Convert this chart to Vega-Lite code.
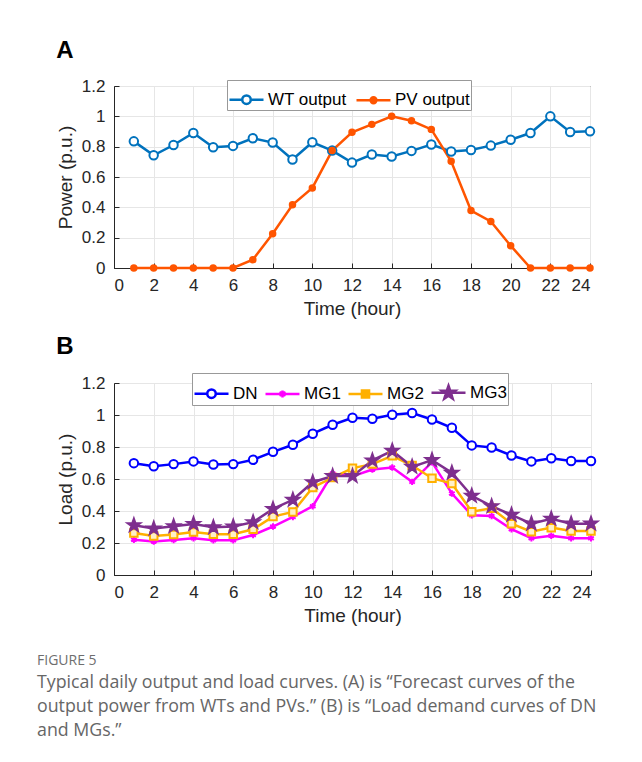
{
"$schema": "https://vega.github.io/schema/vega-lite/v6.json",
"padding": {"left": 37, "top": 38, "right": 5, "bottom": 5},
"background": "white",
"bounds": "flush",
"spacing": 115,
"resolve": {"scale": {"color": "independent"}, "legend": {"color": "independent"}},
"title": {"text": "FIGURE 5", "subtitle": ["Typical daily output and load curves. (A) is “Forecast curves of the", "output power from WTs and PVs.” (B) is “Load demand curves of DN", "and MGs.”"], "orient": "bottom", "anchor": "start", "frame": "group", "dx": -77, "offset": 28, "font": "Open Sans", "fontSize": 14, "fontWeight": "normal", "color": "#6e6e6e", "subtitleFont": "Open Sans", "subtitleFontSize": 17.8, "subtitleColor": "#666666", "subtitlePadding": 6, "subtitleLineHeight": 24},
"config": {
  "font": "Liberation Sans",
  "view": {"stroke": "#262626", "strokeWidth": 1},
  "axis": {"labelFont": "Liberation Sans", "labelFontSize": 17, "labelColor": "#262626", "titleFont": "Liberation Sans", "titleFontSize": 19, "titleFontWeight": "normal", "titleColor": "#262626", "domainColor": "#262626", "tickColor": "#262626", "gridColor": "#e6e6e6", "grid": true, "tickSize": -5},
  "axisX": {"labelPadding": 14, "titlePadding": 6},
  "axisY": {"labelPadding": 14, "titlePadding": 6},
  "legend": {"labelFont": "Liberation Sans"}
},
"datasets": {
 "A": [
  {"hour":1,"series":"WT output","value":0.835},{"hour":2,"series":"WT output","value":0.743},{"hour":3,"series":"WT output","value":0.811},{"hour":4,"series":"WT output","value":0.890},{"hour":5,"series":"WT output","value":0.796},{"hour":6,"series":"WT output","value":0.805},{"hour":7,"series":"WT output","value":0.855},{"hour":8,"series":"WT output","value":0.827},{"hour":9,"series":"WT output","value":0.715},{"hour":10,"series":"WT output","value":0.829},{"hour":11,"series":"WT output","value":0.774},{"hour":12,"series":"WT output","value":0.695},{"hour":13,"series":"WT output","value":0.748},{"hour":14,"series":"WT output","value":0.735},{"hour":15,"series":"WT output","value":0.772},{"hour":16,"series":"WT output","value":0.814},{"hour":17,"series":"WT output","value":0.768},{"hour":18,"series":"WT output","value":0.778},{"hour":19,"series":"WT output","value":0.807},{"hour":20,"series":"WT output","value":0.846},{"hour":21,"series":"WT output","value":0.890},{"hour":22,"series":"WT output","value":1.0},{"hour":23,"series":"WT output","value":0.897},{"hour":24,"series":"WT output","value":0.901},
  {"hour":1,"series":"PV output","value":0},{"hour":2,"series":"PV output","value":0},{"hour":3,"series":"PV output","value":0},{"hour":4,"series":"PV output","value":0},{"hour":5,"series":"PV output","value":0},{"hour":6,"series":"PV output","value":0},{"hour":7,"series":"PV output","value":0.055},{"hour":8,"series":"PV output","value":0.226},{"hour":9,"series":"PV output","value":0.417},{"hour":10,"series":"PV output","value":0.528},{"hour":11,"series":"PV output","value":0.774},{"hour":12,"series":"PV output","value":0.895},{"hour":13,"series":"PV output","value":0.947},{"hour":14,"series":"PV output","value":1.0},{"hour":15,"series":"PV output","value":0.971},{"hour":16,"series":"PV output","value":0.914},{"hour":17,"series":"PV output","value":0.704},{"hour":18,"series":"PV output","value":0.379},{"hour":19,"series":"PV output","value":0.307},{"hour":20,"series":"PV output","value":0.147},{"hour":21,"series":"PV output","value":0},{"hour":22,"series":"PV output","value":0},{"hour":23,"series":"PV output","value":0},{"hour":24,"series":"PV output","value":0}
 ],
 "B": [
  {"hour":1,"series":"DN","value":0.699},{"hour":2,"series":"DN","value":0.680},{"hour":3,"series":"DN","value":0.693},{"hour":4,"series":"DN","value":0.710},{"hour":5,"series":"DN","value":0.691},{"hour":6,"series":"DN","value":0.693},{"hour":7,"series":"DN","value":0.720},{"hour":8,"series":"DN","value":0.770},{"hour":9,"series":"DN","value":0.814},{"hour":10,"series":"DN","value":0.883},{"hour":11,"series":"DN","value":0.939},{"hour":12,"series":"DN","value":0.983},{"hour":13,"series":"DN","value":0.977},{"hour":14,"series":"DN","value":1.002},{"hour":15,"series":"DN","value":1.012},{"hour":16,"series":"DN","value":0.972},{"hour":17,"series":"DN","value":0.920},{"hour":18,"series":"DN","value":0.810},{"hour":19,"series":"DN","value":0.797},{"hour":20,"series":"DN","value":0.747},{"hour":21,"series":"DN","value":0.710},{"hour":22,"series":"DN","value":0.730},{"hour":23,"series":"DN","value":0.712},{"hour":24,"series":"DN","value":0.712},
  {"hour":1,"series":"MG1","value":0.221},{"hour":2,"series":"MG1","value":0.209},{"hour":3,"series":"MG1","value":0.219},{"hour":4,"series":"MG1","value":0.230},{"hour":5,"series":"MG1","value":0.217},{"hour":6,"series":"MG1","value":0.217},{"hour":7,"series":"MG1","value":0.250},{"hour":8,"series":"MG1","value":0.303},{"hour":9,"series":"MG1","value":0.363},{"hour":10,"series":"MG1","value":0.430},{"hour":11,"series":"MG1","value":0.634},{"hour":12,"series":"MG1","value":0.618},{"hour":13,"series":"MG1","value":0.659},{"hour":14,"series":"MG1","value":0.672},{"hour":15,"series":"MG1","value":0.582},{"hour":16,"series":"MG1","value":0.705},{"hour":17,"series":"MG1","value":0.509},{"hour":18,"series":"MG1","value":0.374},{"hour":19,"series":"MG1","value":0.369},{"hour":20,"series":"MG1","value":0.286},{"hour":21,"series":"MG1","value":0.230},{"hour":22,"series":"MG1","value":0.246},{"hour":23,"series":"MG1","value":0.230},{"hour":24,"series":"MG1","value":0.230},
  {"hour":1,"series":"MG2","value":0.263},{"hour":2,"series":"MG2","value":0.244},{"hour":3,"series":"MG2","value":0.253},{"hour":4,"series":"MG2","value":0.269},{"hour":5,"series":"MG2","value":0.255},{"hour":6,"series":"MG2","value":0.255},{"hour":7,"series":"MG2","value":0.286},{"hour":8,"series":"MG2","value":0.365},{"hour":9,"series":"MG2","value":0.394},{"hour":10,"series":"MG2","value":0.547},{"hour":11,"series":"MG2","value":0.609},{"hour":12,"series":"MG2","value":0.668},{"hour":13,"series":"MG2","value":0.693},{"hour":14,"series":"MG2","value":0.745},{"hour":15,"series":"MG2","value":0.684},{"hour":16,"series":"MG2","value":0.605},{"hour":17,"series":"MG2","value":0.572},{"hour":18,"series":"MG2","value":0.396},{"hour":19,"series":"MG2","value":0.417},{"hour":20,"series":"MG2","value":0.321},{"hour":21,"series":"MG2","value":0.271},{"hour":22,"series":"MG2","value":0.296},{"hour":23,"series":"MG2","value":0.275},{"hour":24,"series":"MG2","value":0.275},
  {"hour":1,"series":"MG3","value":0.311},{"hour":2,"series":"MG3","value":0.290},{"hour":3,"series":"MG3","value":0.305},{"hour":4,"series":"MG3","value":0.319},{"hour":5,"series":"MG3","value":0.298},{"hour":6,"series":"MG3","value":0.303},{"hour":7,"series":"MG3","value":0.330},{"hour":8,"series":"MG3","value":0.413},{"hour":9,"series":"MG3","value":0.470},{"hour":10,"series":"MG3","value":0.580},{"hour":11,"series":"MG3","value":0.618},{"hour":12,"series":"MG3","value":0.618},{"hour":13,"series":"MG3","value":0.716},{"hour":14,"series":"MG3","value":0.776},{"hour":15,"series":"MG3","value":0.676},{"hour":16,"series":"MG3","value":0.718},{"hour":17,"series":"MG3","value":0.639},{"hour":18,"series":"MG3","value":0.495},{"hour":19,"series":"MG3","value":0.430},{"hour":20,"series":"MG3","value":0.376},{"hour":21,"series":"MG3","value":0.321},{"hour":22,"series":"MG3","value":0.351},{"hour":23,"series":"MG3","value":0.321},{"hour":24,"series":"MG3","value":0.321}
 ]
},
"vconcat": [
 {
  "title": {"text": "A", "anchor": "start", "frame": "bounds", "fontSize": 24, "fontWeight": "bold", "font": "Liberation Sans", "color": "black", "baseline": "alphabetic", "offset": -5},
  "width": 476, "height": 182,
  "data": {"name": "A"},
  "encoding": {
    "x": {"field": "hour", "type": "quantitative", "scale": {"domain": [0, 24], "nice": false}, "axis": {"values": [0,2,4,6,8,10,12,14,16,18,20,22,24], "format": "d", "title": "Time (hour)"}},
    "y": {"field": "value", "type": "quantitative", "scale": {"domain": [0, 1.2], "nice": false}, "axis": {"values": [0,0.2,0.4,0.6,0.8,1,1.2], "format": "~g", "title": "Power (p.u.)"}}
  },
  "layer": [
    {"mark": {"type": "line", "strokeWidth": 2.5},
     "encoding": {"color": {"field": "series", "type": "nominal", "scale": {"domain": ["WT output", "PV output"], "range": ["#0072BD", "#FF5500"]},
       "legend": {"orient": "none", "legendX": 113, "legendY": -6, "direction": "horizontal", "title": null, "fillColor": "white", "strokeColor": "#999999", "padding": 1, "labelFontSize": 17, "labelFont": "Liberation Sans", "labelColor": "black", "symbolSize": 1156, "symbolStrokeWidth": 2.5, "labelOffset": 3, "columnPadding": 4,
         "encode": {"symbols": {"update": {
           "shape": {"signal": "datum.value === 'WT output' ? 'M-1,0H-0.25M0.25,0H1M0.25,0A0.25,0.25,0,1,1,-0.25,0A0.25,0.25,0,1,1,0.25,0' : 'M-1,0H1M0.17,0A0.17,0.17,0,1,1,-0.17,0A0.17,0.17,0,1,1,0.17,0'"},
           "fill": {"signal": "datum.value === 'PV output' ? '#FF5500' : 'white'"}}}}}}}},
    {"mark": {"type": "point", "strokeWidth": 2, "opacity": 1, "shape": "circle"},
     "encoding": {
       "stroke": {"condition": {"test": "datum.series === 'PV output'", "value": "#FF5500"}, "value": "#0072BD"},
       "fill": {"condition": {"test": "datum.series === 'PV output'", "value": "#FF5500"}, "value": "white"},
       "size": {"condition": {"test": "datum.series === 'PV output'", "value": 30}, "value": 72}
     }}
  ]
 },
 {
  "title": {"text": "B", "anchor": "start", "frame": "bounds", "fontSize": 24, "fontWeight": "bold", "font": "Liberation Sans", "color": "black", "baseline": "alphabetic", "offset": -5},
  "width": 477, "height": 192,
  "data": {"name": "B"},
  "encoding": {
    "x": {"field": "hour", "type": "quantitative", "scale": {"domain": [0, 24], "nice": false}, "axis": {"values": [0,2,4,6,8,10,12,14,16,18,20,22,24], "format": "d", "title": "Time (hour)"}},
    "y": {"field": "value", "type": "quantitative", "scale": {"domain": [0, 1.2], "nice": false}, "axis": {"values": [0,0.2,0.4,0.6,0.8,1,1.2], "format": "~g", "title": "Load (p.u.)"}}
  },
  "layer": [
    {"mark": {"type": "line", "strokeWidth": 2.5},
     "encoding": {"color": {"field": "series", "type": "nominal", "scale": {"domain": ["DN", "MG1", "MG2", "MG3"], "range": ["#0000FF", "#FF00FF", "#FFB000", "#7E2F8E"]},
       "legend": {"orient": "none", "legendX": 78, "legendY": -10, "direction": "horizontal", "title": null, "fillColor": "white", "strokeColor": "#999999", "padding": 1, "labelFontSize": 17, "labelFont": "Liberation Sans", "labelColor": "black", "symbolSize": 1156, "symbolStrokeWidth": 2.5, "labelOffset": 3, "columnPadding": 2,
         "encode": {"symbols": {"update": {
           "shape": {"signal": "datum.value === 'DN' ? 'M-1,0H-0.25M0.25,0H1M0.25,0A0.25,0.25,0,1,1,-0.25,0A0.25,0.25,0,1,1,0.25,0' : datum.value === 'MG1' ? 'M-1,0H1M0,-0.21V0.21M-0.18,-0.105L0.18,0.105M-0.18,0.105L0.18,-0.105' : datum.value === 'MG2' ? 'M-1,0H-0.21M0.21,0H1M-0.21,-0.21H0.21V0.21H-0.21Z' : 'M-1,0H1M0,-0.42L0.099,-0.136L0.4,-0.13L0.16,0.052L0.247,0.34L0,0.168L-0.247,0.34L-0.16,0.052L-0.4,-0.13L-0.099,-0.136Z'"},
           "fill": {"signal": "datum.value === 'DN' ? 'white' : datum.value === 'MG1' ? 'transparent' : datum.value === 'MG2' ? '#FFB000' : '#7E2F8E'"}}}}}}}},
    {"mark": {"type": "point", "strokeWidth": 2, "opacity": 1},
     "encoding": {
       "stroke": {"condition": [{"test": "datum.series === 'MG1'", "value": "#FF00FF"}, {"test": "datum.series === 'MG2'", "value": "#FFB000"}, {"test": "datum.series === 'MG3'", "value": "#7E2F8E"}], "value": "#0000FF"},
       "fill": {"condition": [{"test": "datum.series === 'MG1'", "value": "transparent"}, {"test": "datum.series === 'MG2'", "value": "#FFF0C8"}, {"test": "datum.series === 'MG3'", "value": "#7E2F8E"}], "value": "white"},
       "shape": {"condition": [{"test": "datum.series === 'MG1'", "value": "M0,-1V1M-0.87,-0.5L0.87,0.5M-0.87,0.5L0.87,-0.5"}, {"test": "datum.series === 'MG2'", "value": "square"}, {"test": "datum.series === 'MG3'", "value": "M0,-1L0.235,-0.323L0.951,-0.309L0.38,0.124L0.588,0.809L0,0.4L-0.588,0.809L-0.38,0.124L-0.951,-0.309L-0.235,-0.323Z"}], "value": "circle"},
       "size": {"condition": [{"test": "datum.series === 'MG1'", "value": 42}, {"test": "datum.series === 'MG2'", "value": 56}, {"test": "datum.series === 'MG3'", "value": 180}], "value": 72}
     }}
  ]
 }
]
}
